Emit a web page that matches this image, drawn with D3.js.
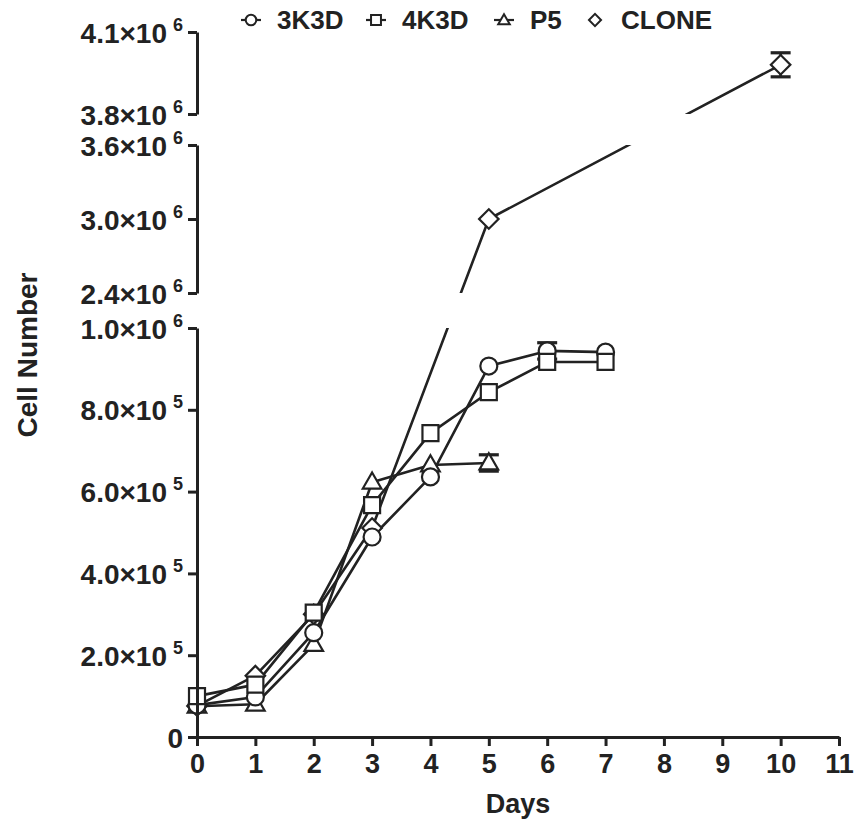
<!DOCTYPE html>
<html>
<head>
    <meta charset="utf-8" />
    <title>Cell Number</title>
    <script src="https://cdn.jsdelivr.net/npm/d3@7"></script>
    <style>
        body { margin: 0; background: #fff; }
        svg { font-family: "Liberation Sans", Arial, sans-serif; font-weight: bold; }
    </style>
</head>
<body>
    <svg id="chart" width="854" height="823"></svg>

    <script>
        // data (days, cell counts)
        var days = [0, 1, 2, 3, 4, 5, 6, 7]
        var s3K3D = [78000, 98000, 255000, 489000, 636000, 907000, 944000, 941000]
        var s4K3D = [100000, 128000, 304000, 567000, 743000, 843000, 917000, 917000]
        var daysP5 = [0, 1, 2, 3, 4, 5]
        var sP5 = [75000, 80000, 226000, 623000, 665000, 670000]
        var daysClone = [0, 1, 2, 3, 5, 10]
        var sClone = [76000, 150000, 300000, 511000, 3000000, 3980000]

        // error bars: series, day, value, sd
        var errBars = [
            { s: 'P5', day: 5, v: 670000, sd: 20000 },
            { s: '3K3D', day: 6, v: 944000, sd: 20000 },
            { s: 'CLONE', day: 10, v: 3980000, sd: 44000 }
        ]

        var xTicks = d3.range(0, 12)
        var yTicksTop = [3.8e6, 4.1e6]
        var yTicksMid = [2.4e6, 3.0e6, 3.6e6]
        var yTicksLow = [0, 2e5, 4e5, 6e5, 8e5, 1e6]

        var svg = d3.select('#chart')
        var x = d3.scaleLinear().domain([0, 11]).range([197, 839])

        // broken y axis: three pieces
        var segs = [
            { scale: d3.scaleLinear().domain([3.8e6, 4.1e6]).range([114, 32]), ticks: yTicksTop },
            { scale: d3.scaleLinear().domain([2.4e6, 3.6e6]).range([293, 145]), ticks: yTicksMid },
            { scale: d3.scaleLinear().domain([0, 1.0e6]).range([737, 328]), ticks: yTicksLow }
        ]
        function y(v) {
            for (var i = 0; i < segs.length; i++) {
                var d = segs[i].scale.domain()
                if (v >= d[0] - 1e-6 && v <= d[1] + 1e-6) return segs[i].scale(v)
            }
            if (v > 3.6e6) return segs[0].scale(v)
            if (v > 1.0e6) return segs[1].scale(v)
            return segs[2].scale(v)
        }

        // lines are straight on the page and vanish in the axis gaps
        var clip = svg.append('defs').append('clipPath').attr('id', 'bands')
        segs.forEach(function (s, i) {
            var r = s.scale.range()
            var top = i == 0 ? r[1] - 20 : r[1]
            var bot = i == 2 ? r[0] + 20 : r[0]
            clip.append('rect')
                .attr('x', x(0) - 20).attr('width', x(11) - x(0) + 40)
                .attr('y', top).attr('height', bot - top)
        })

        // drawing order (first = bottom)
        var series = [
            { name: 'CLONE', xs: daysClone, ys: sClone, sym: 'diamond' },
            { name: 'P5', xs: daysP5, ys: sP5, sym: 'tri' },
            { name: '3K3D', xs: days, ys: s3K3D, sym: 'circle' },
            { name: '4K3D', xs: days, ys: s4K3D, sym: 'square' }
        ]
        var ink = '#222'

        function symPath(kind, k) {
            k = k || 1
            if (kind == 'circle') return d3.symbol(d3.symbolCircle, 227 * k * k)()
            if (kind == 'square') return d3.symbol(d3.symbolSquare, 256 * k * k)()
            if (kind == 'tri') return d3.symbol(d3.symbolTriangle, 150 * k * k)()
            return d3.symbol(d3.symbolSquare, 190 * k * k)()
        }

        var line = d3.line().x(function (d) { return x(d[0]) }).y(function (d) { return y(d[1]) })

        var gLines = svg.append('g').attr('clip-path', 'url(#bands)')
        series.forEach(function (s) {
            gLines.append('path')
                .attr('d', line(d3.zip(s.xs, s.ys)))
                .attr('fill', 'none').attr('stroke', ink).attr('stroke-width', 2.6)
                .attr('stroke-linejoin', 'round')
        })

        // error bars
        var gErr = svg.append('g').attr('stroke', ink).attr('stroke-width', 2.6)
        errBars.forEach(function (e) {
            var cx = x(e.day)
            gErr.append('line').attr('x1', cx).attr('x2', cx).attr('y1', y(e.v - e.sd)).attr('y2', y(e.v + e.sd))
            ;[e.v - e.sd, e.v + e.sd].forEach(function (v) {
                gErr.append('line').attr('x1', cx - 10).attr('x2', cx + 10).attr('y1', y(v)).attr('y2', y(v))
                    .attr('stroke-width', 3.2)
            })
        })

        // markers
        series.forEach(function (s) {
            svg.append('g').selectAll('path')
                .data(d3.zip(s.xs, s.ys))
                .enter().append('path')
                .attr('d', symPath(s.sym))
                .attr('transform', function (d) {
                    var t = 'translate(' + x(d[0]) + ',' + y(d[1]) + ')'
                    if (s.sym == 'tri') t += 'translate(0,1)'
                    if (s.sym == 'diamond') t += 'rotate(45)'
                    return t
                })
                .attr('fill', '#fff').attr('stroke', ink).attr('stroke-width', 2.2)
        })

        // y axis pieces
        function fmt(v) {
            if (v == 0) return ['0', '']
            var e = Math.floor(Math.log10(v) + 1e-9)
            return [(v / Math.pow(10, e)).toFixed(1) + '\u00d710', String(e)]
        }
        segs.forEach(function (s) {
            var g = svg.append('g').attr('transform', 'translate(' + x(0) + ',0)')
                .call(d3.axisLeft(s.scale).tickValues(s.ticks).tickSize(9).tickSizeOuter(0).tickFormat(''))
            g.select('.domain').attr('stroke', ink).attr('stroke-width', 3)
            g.selectAll('.tick line').attr('stroke', ink).attr('stroke-width', 3)
            g.selectAll('.tick').each(function (v) {
                var f = fmt(v)
                var t = d3.select(this).append('text')
                    .attr('x', -14).attr('y', 10)
                    .attr('text-anchor', 'end').attr('fill', ink)
                    .style('font-size', '28px')
                t.append('tspan').text(f[0])
                if (f[1]) {
                    t.append('tspan').attr('dx', 6).attr('dy', -12).style('font-size', '18px').text(f[1])
                }
            })
        })

        // x axis
        var gx = svg.append('g').attr('transform', 'translate(0,' + y(0) + ')')
            .call(d3.axisBottom(x).tickValues(xTicks).tickSize(9).tickSizeOuter(0))
        gx.select('.domain').attr('stroke', ink).attr('stroke-width', 3)
        gx.selectAll('.tick line').attr('stroke', ink).attr('stroke-width', 3)
        gx.selectAll('.tick text').attr('y', 17).attr('dy', '0.71em').attr('fill', ink)
            .style('font-size', '27px').style('font-family', null)

        // axis titles
        svg.append('text').attr('x', (x(0) + x(11)) / 2).attr('y', 813)
            .attr('text-anchor', 'middle').attr('fill', ink).style('font-size', '27px').text('Days')
        svg.append('text').attr('transform', 'translate(37,355) rotate(-90)')
            .attr('text-anchor', 'middle').attr('fill', ink).style('font-size', '28px').text('Cell Number')

        // legend
        var legX = [251, 376, 504, 595]
        var legOrder = ['3K3D', '4K3D', 'P5', 'CLONE']
        var legSym = { '3K3D': 'circle', '4K3D': 'square', 'P5': 'tri', 'CLONE': 'diamond' }
        legOrder.forEach(function (n, i) {
            var g = svg.append('g').attr('transform', 'translate(' + legX[i] + ',20)')
            if (n != 'CLONE') {
                g.append('line').attr('x1', -10).attr('x2', 10).attr('stroke', ink).attr('stroke-width', 2.2)
            }
            g.append('path').attr('d', symPath(legSym[n], 0.62))
                .attr('transform', legSym[n] == 'diamond' ? 'rotate(45)' : (legSym[n] == 'tri' ? 'translate(0,1)' : null))
                .attr('fill', '#fff').attr('stroke', ink).attr('stroke-width', 2)
            g.append('text').attr('x', 26).attr('y', 9).attr('fill', ink)
                .style('font-size', '26px').text(n)
        })
    </script>
</body>
</html>
